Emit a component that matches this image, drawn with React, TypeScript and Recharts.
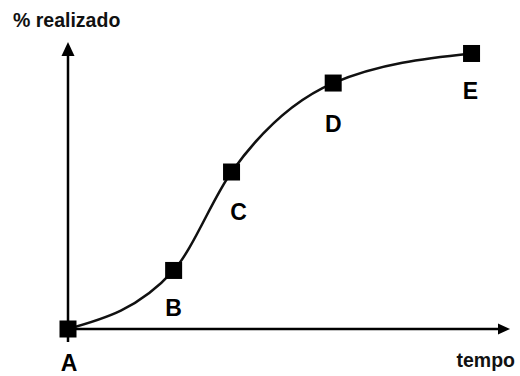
import React from 'react';
import { LineChart, Line, XAxis, YAxis, ReferenceLine, LabelList } from 'recharts';

const pointNames = ['A', 'B', 'C', 'D', 'E'];
const tempo = [0, 23.9, 37, 60, 91.3];
const realizado = [0, 20.4, 54.7, 85.7, 96];
const yAxisTitle = '% realizado';
const xAxisTitle = 'tempo';

const data = pointNames.map((name, i) => ({ name, t: tempo[i], r: realizado[i] }));

const FONT = '"Liberation Sans", Arial, sans-serif';
const labelDx: Record<string, number> = { A: 1, B: 0, C: 7, D: 0, E: -1 };
const labelDy: Record<string, number> = { A: 42, B: 46, C: 48, D: 49, E: 46 };

const XArrow = (p: any) => {
  const { x1, y1, x2 } = p;
  return (
    <g>
      <line x1={x1} y1={y1} x2={x2 - 10} y2={y1} stroke="#000" strokeWidth={2.5} />
      <polygon points={`${x2 - 12},${y1 - 5.5} ${x2},${y1} ${x2 - 12},${y1 + 5.5}`} fill="#000" />
      <text x={x2 + 5} y={y1 + 38} textAnchor="end" fontFamily={FONT} fontWeight="bold" fontSize={19.5} fill="#111">
        {xAxisTitle}
      </text>
    </g>
  );
};

const YArrow = (p: any) => {
  const { x1, y1, y2 } = p;
  const top = Math.min(y1, y2);
  const bottom = Math.max(y1, y2);
  return (
    <g>
      <line x1={x1} y1={bottom} x2={x1} y2={top + 10} stroke="#000" strokeWidth={2.5} />
      <polygon points={`${x1 - 6.5},${top + 14} ${x1},${top} ${x1 + 6.5},${top + 14}`} fill="#000" />
      <text x={13} y={27} textAnchor="start" fontFamily={FONT} fontWeight="bold" fontSize={19.5} fill="#111">
        {yAxisTitle}
      </text>
    </g>
  );
};

const SquareDot = (p: any) => {
  const { cx, cy, index } = p;
  return <rect key={`d${index}`} x={cx - 8.5} y={cy - 8.5} width={17} height={17} fill="#000" />;
};

const PointLabel = (p: any) => {
  const { x, y, value } = p;
  return (
    <text
      x={x + (labelDx[value] ?? 0)}
      y={y + (labelDy[value] ?? 47)}
      textAnchor="middle"
      fontFamily={FONT}
      fontWeight="bold"
      fontSize={23}
      fill="#000"
    >
      {value}
    </text>
  );
};

export default function App() {
  return (
    <div style={{ position: 'absolute', left: 0, top: 0, background: '#fff' }}>
      <LineChart width={520} height={376} data={data} margin={{ top: 42, right: 10, bottom: 47, left: 68 }}>
        <XAxis type="number" dataKey="t" domain={[0, 100]} hide />
        <YAxis type="number" domain={[0, 100]} hide />
        <ReferenceLine segment={[{ x: 0, y: 0 }, { x: 100, y: 0 }]} ifOverflow="visible" shape={XArrow} />
        <ReferenceLine segment={[{ x: 0, y: -4.5 }, { x: 0, y: 100 }]} ifOverflow="visible" shape={YArrow} />
        <Line
          type="monotone"
          dataKey="r"
          stroke="#111"
          strokeWidth={2.5}
          dot={SquareDot}
          activeDot={false}
          isAnimationActive={false}
        >
          <LabelList dataKey="name" content={PointLabel} />
        </Line>
      </LineChart>
    </div>
  );
}
